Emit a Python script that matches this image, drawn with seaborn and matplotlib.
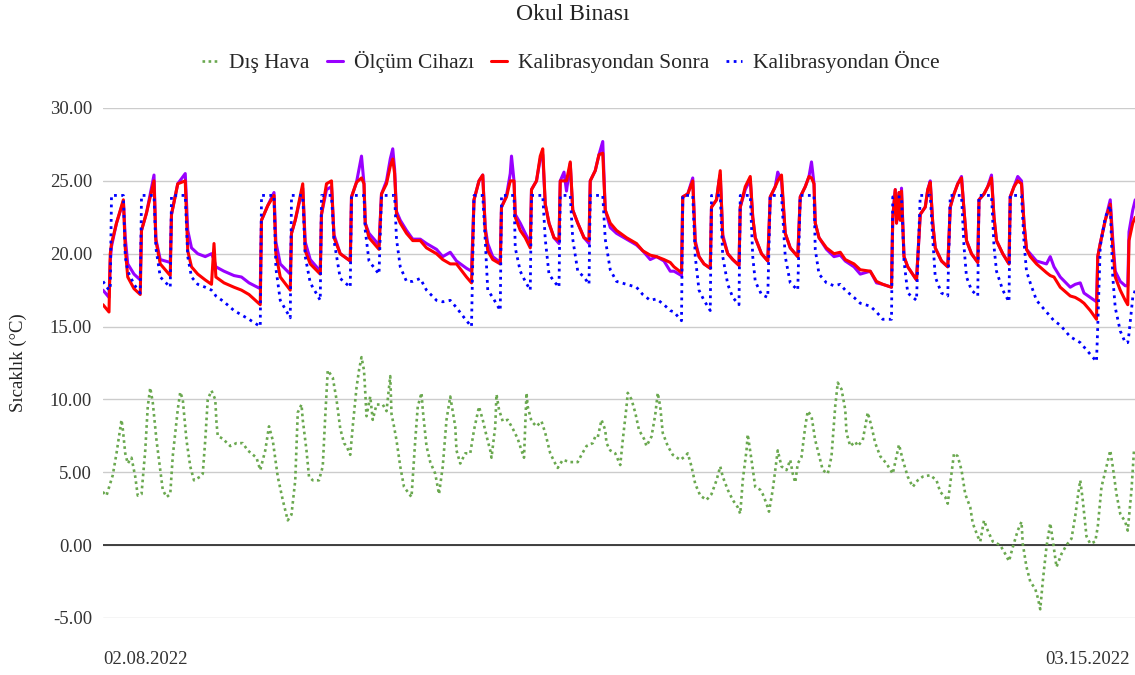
import matplotlib
matplotlib.use('Agg')
import matplotlib.pyplot as plt
import seaborn as sns

# hours since start (02.08.2022), indoor readings
saat = [
    -0.8, 4, 5, 6, 10, 15.5, 17, 19, 24, 29,
    30, 34, 40, 41.5, 45, 53,
    54, 59, 65, 67, 70, 75, 81, 86, 88, 89.5, 96, 104, 110, 116, 125,
    126, 131, 136, 137.5, 141, 149,
    150, 153, 159, 161, 165, 173,
    174, 178, 182, 184, 189, 197,
    198, 202, 206, 208, 209, 212, 220,
    222, 226, 229, 231, 232.5, 234, 237, 242, 247, 253, 258, 266, 271, 277, 282, 290, 294,
    296, 300, 303, 305, 307, 311, 317,
    318, 322, 325, 326, 328, 329, 333, 337, 341,
    342, 346, 349, 351, 353, 356, 360, 364,
    365, 368, 370, 373, 375, 379, 384, 388,
    389, 393, 396, 399, 401, 405, 410, 418, 426, 431, 437, 442, 448, 453, 456, 462,
    463, 467, 471, 473, 476, 480, 485,
    486, 490, 492, 493, 495, 499, 503, 508,
    509, 513, 517, 519, 521, 526, 531,
    533, 537, 539, 542, 545, 549, 555,
    557, 561, 564, 566, 568, 569, 572, 578, 584, 589, 593, 600, 605, 613, 618, 623, 630,
    631, 633, 634, 636, 637, 638, 640, 643, 650,
    653, 657, 659, 661, 663, 665, 670, 675,
    677, 680, 683, 686, 688, 690, 694, 699,
    700, 704, 707, 710, 712, 714, 719, 724,
    725, 728, 731, 734, 736, 738, 741, 746, 754, 757, 760, 765, 773, 777, 781, 784, 789, 794,
    795, 797, 801, 805, 807, 809, 813, 817, 819, 820, 823, 825,
]

olcum_cihazi = [
    17.5, 17.0, 19.5, 20.5, 22.1, 23.6, 21.1, 19.3, 18.6, 18.2,
    21.6, 22.8, 25.4, 21.0, 19.6, 19.4,
    22.7, 24.8, 25.5, 21.6, 20.4, 20.0, 19.8, 20.0, 19.6, 19.1, 18.8, 18.5, 18.4, 18.0, 17.6,
    22.3, 23.3, 24.2, 20.8, 19.3, 18.6,
    21.4, 22.3, 24.5, 20.8, 19.6, 18.8,
    22.7, 24.4, 24.6, 21.3, 20.0, 19.5,
    23.9, 24.9, 26.7, 24.8, 22.1, 21.4, 20.6,
    24.1, 25.0, 26.5, 27.2, 25.8, 22.9, 22.3, 21.6, 21.0, 21.0, 20.7, 20.3, 19.8, 20.1, 19.5, 19.0, 18.8,
    23.7, 25.0, 25.4, 21.8, 20.7, 19.8, 19.4,
    23.2, 24.0, 25.5, 26.7, 25.0, 22.7, 22.1, 21.4, 20.7,
    24.4, 25.0, 26.5, 26.8, 23.4, 22.1, 21.1, 20.7,
    25.0, 25.6, 24.3, 26.2, 23.0, 22.1, 21.1, 20.7,
    25.0, 25.7, 26.8, 27.7, 23.0, 21.8, 21.4, 21.0, 20.6, 20.2, 19.6, 19.8, 19.5, 18.8, 18.8, 18.5,
    23.9, 24.1, 25.2, 20.9, 19.8, 19.3, 19.0,
    23.2, 23.7, 25.0, 25.4, 21.3, 20.0, 19.6, 19.2,
    23.2, 24.4, 25.1, 22.5, 21.1, 20.0, 19.5,
    23.9, 24.6, 25.6, 25.0, 21.4, 20.4, 19.8,
    23.9, 24.6, 25.3, 26.3, 24.8, 22.1, 21.1, 20.3, 19.8, 19.9, 19.5, 19.1, 18.6, 18.8, 18.0, 17.9, 17.7,
    22.5, 24.4, 22.1, 24.2, 22.3, 24.5, 19.8, 19.1, 18.2,
    22.7, 23.2, 24.4, 25.0, 22.1, 20.4, 19.5, 19.1,
    23.2, 24.1, 24.8, 25.3, 23.0, 20.9, 20.0, 19.4,
    23.7, 24.1, 24.6, 25.4, 22.5, 20.9, 20.0, 19.3,
    23.9, 24.6, 25.3, 25.0, 22.1, 20.3, 20.0, 19.5, 19.3, 19.8, 19.1, 18.4, 17.7, 17.9, 18.0, 17.3, 17.0, 16.7,
    19.8, 20.7, 22.3, 23.7, 21.0, 18.8, 18.1, 17.8, 17.8, 21.5, 23.0, 23.7,
]

kalibrasyon_sonra = [
    16.5, 16.0, 20.0, 20.7, 22.1, 23.7, 20.4, 18.4, 17.6, 17.2,
    21.6, 22.8, 25.0, 20.9, 19.3, 18.5,
    22.7, 24.8, 25.0, 20.2, 19.1, 18.6, 18.2, 17.9, 20.7, 18.4, 18.0, 17.7, 17.5, 17.2, 16.5,
    22.3, 23.3, 24.0, 20.0, 18.4, 17.5,
    21.4, 22.3, 24.8, 20.2, 19.3, 18.6,
    22.7, 24.8, 25.0, 21.1, 20.0, 19.5,
    23.9, 24.9, 25.2, 24.8, 22.1, 21.1, 20.3,
    24.1, 24.8, 26.0, 26.5, 25.5, 22.7, 22.1, 21.4, 20.9, 20.9, 20.4, 20.0, 19.6, 19.3, 19.3, 18.4, 18.0,
    23.7, 25.0, 25.4, 21.6, 20.2, 19.6, 19.3,
    23.2, 23.9, 25.0, 25.0, 25.0, 22.5, 21.6, 21.1, 20.4,
    24.4, 25.0, 26.7, 27.2, 23.4, 22.1, 21.1, 20.9,
    25.0, 25.0, 25.0, 26.3, 23.0, 22.1, 21.1, 20.9,
    25.0, 25.7, 26.8, 26.9, 23.0, 22.1, 21.6, 21.1, 20.7, 20.2, 19.9, 19.8, 19.6, 19.4, 19.1, 18.7,
    23.9, 24.1, 25.0, 20.7, 19.8, 19.3, 19.0,
    23.2, 23.7, 25.0, 25.7, 21.1, 20.0, 19.6, 19.2,
    23.2, 24.6, 25.3, 22.5, 21.1, 20.0, 19.5,
    23.9, 24.6, 25.0, 25.4, 21.4, 20.4, 19.8,
    23.9, 24.6, 25.3, 25.2, 24.8, 22.1, 21.1, 20.4, 20.0, 20.1, 19.6, 19.3, 18.9, 18.8, 18.1, 17.9, 17.7,
    22.5, 24.4, 22.1, 24.2, 22.3, 24.3, 19.8, 19.1, 18.2,
    22.7, 23.2, 24.4, 24.9, 22.1, 20.4, 19.5, 19.1,
    23.2, 24.1, 24.8, 25.2, 23.0, 20.9, 20.0, 19.4,
    23.7, 24.1, 24.6, 25.2, 22.5, 20.9, 20.0, 19.3,
    23.9, 24.6, 25.0, 24.8, 22.1, 20.3, 19.8, 19.3, 18.7, 18.5, 18.4, 17.7, 17.1, 17.0, 16.8, 16.6, 16.1, 15.5,
    19.8, 20.7, 22.3, 23.4, 20.5, 18.4, 17.5, 16.8, 16.5, 20.9, 22.1, 22.5,
]

kalibrasyon_once = [
    18.1, 17.5, 17.6, 24.0, 24.0, 24.0, 19.8, 18.8, 17.9, 17.3,
    24.0, 24.0, 24.0, 20.4, 18.4, 17.7,
    24.0, 24.0, 24.0, 19.8, 18.4, 17.9, 17.7, 17.5, 17.3, 17.1, 16.7, 16.1, 15.8, 15.5, 15.0,
    24.0, 24.0, 24.0, 19.0, 16.8, 15.6,
    24.0, 24.0, 24.0, 19.8, 18.0, 16.8,
    24.0, 24.0, 24.0, 20.9, 18.3, 17.7,
    24.0, 24.0, 24.0, 24.0, 21.6, 19.5, 18.6,
    24.0, 24.0, 24.0, 24.0, 24.0, 21.0, 19.1, 18.1, 18.1, 18.3, 17.5, 16.8, 16.7, 16.8, 16.3, 15.4, 15.0,
    24.0, 24.0, 24.0, 20.9, 17.5, 17.0, 16.1,
    24.0, 24.0, 24.0, 24.0, 24.0, 20.4, 18.8, 18.1, 17.5,
    24.0, 24.0, 24.0, 24.0, 21.0, 18.6, 18.1, 17.7,
    24.0, 24.0, 24.0, 24.0, 21.0, 18.8, 18.4, 17.9,
    24.0, 24.0, 24.0, 24.0, 21.0, 18.9, 18.1, 17.9, 17.7, 17.2, 16.8, 16.9, 16.5, 16.1, 16.0, 15.4,
    24.0, 24.0, 24.0, 19.8, 17.5, 16.8, 16.1,
    24.0, 24.0, 24.0, 24.0, 19.8, 17.9, 17.0, 16.5,
    24.0, 24.0, 24.0, 19.8, 18.1, 17.2, 17.0,
    24.0, 24.0, 24.0, 24.0, 19.8, 18.0, 17.5,
    24.0, 24.0, 24.0, 24.0, 24.0, 20.3, 18.6, 18.0, 17.8, 17.9, 17.5, 17.0, 16.6, 16.4, 16.0, 15.5, 15.5,
    23.9, 23.9, 23.9, 23.9, 23.9, 23.9, 19.5, 17.3, 16.8,
    24.0, 24.0, 24.0, 24.0, 21.0, 18.4, 17.3, 17.1,
    24.0, 24.0, 24.0, 24.0, 20.5, 18.4, 17.5, 17.1,
    24.0, 24.0, 24.0, 24.0, 20.5, 18.8, 17.5, 16.7,
    24.0, 24.0, 24.0, 24.0, 20.8, 18.8, 18.0, 16.8, 16.0, 15.7, 15.4, 15.1, 14.3, 14.1, 13.9, 13.6, 13.1, 12.6,
    15.0, 20.5, 22.5, 23.3, 18.4, 16.3, 14.7, 13.9, 13.9, 14.5, 17.0, 17.5,
]

# outdoor readings
saat_dis = [
    -1, 2, 7, 10, 14, 15, 17, 19, 22, 25,
    27, 30, 33, 35, 37, 39, 42, 45, 47, 50,
    53, 55, 59, 61, 63, 66, 69, 72, 77, 79,
    81, 83, 86, 89, 90, 91, 95, 101, 106, 111,
    115, 122, 125, 129, 132, 135, 139, 143, 147, 150,
    153, 155, 158, 159, 162, 164, 167, 172, 175, 177,
    179, 183, 186, 189, 192, 194, 197, 199, 202, 204,
    206, 208, 209, 210, 213, 215, 218, 223, 226, 229,
    230, 232, 234, 237, 240, 243, 246, 249, 251, 254,
    255, 258, 261, 265, 268, 271, 274, 277, 281, 282,
    285, 289, 293, 296, 300, 303, 306, 309, 310, 313,
    314, 316, 319, 323, 327, 331, 334, 336, 338, 339,
    342, 346, 350, 353, 357, 361, 363, 367, 373, 379,
    382, 386, 391, 393, 395, 398, 401, 402, 405, 409,
    413, 415, 418, 419, 422, 425, 428, 432, 434, 438,
    441, 443, 445, 447, 451, 455, 461, 465, 467, 470,
    473, 477, 482, 486, 490, 493, 495, 499, 503, 507,
    509, 511, 514, 515, 518, 521, 525, 527, 530, 532,
    535, 537, 539, 542, 546, 549, 551, 553, 555, 558,
    561, 563, 566, 569, 573, 575, 579, 582, 585, 587,
    590, 593, 594, 597, 601, 603, 607, 611, 614, 617,
    621, 626, 631, 634, 636, 639, 643, 647, 651, 655,
    661, 666, 669, 673, 675, 678, 680, 683, 686, 689,
    693, 695, 699, 701, 704, 707, 711, 717, 721, 724,
    727, 731, 734, 735, 738, 741, 745, 747, 749, 751,
    754, 757, 759, 762, 766, 770, 774, 777, 779, 781,
    783, 786, 789, 793, 795, 798, 802, 805, 807, 810,
    813, 817, 819, 822, 824,
]

dis_hava = [
    3.65, 3.4, 4.8, 6.3, 8.6, 8.0, 6.3, 5.6, 6.0, 4.7,
    3.4, 3.5, 6.5, 9.5, 10.8, 9.8, 7.2, 5.15, 3.8, 3.3,
    3.5, 6.1, 9.3, 10.5, 10.0, 7.2, 5.4, 4.45, 4.7, 4.9,
    7.2, 10.0, 10.6, 10.0, 8.4, 7.5, 7.3, 6.8, 7.0, 7.0,
    6.5, 6.0, 5.15, 6.5, 8.15, 7.2, 4.7, 3.1, 1.7, 2.1,
    4.45, 9.1, 9.65, 8.6, 6.5, 4.7, 4.45, 4.45, 5.4, 8.85,
    12.0, 11.5, 10.0, 8.0, 7.0, 6.8, 6.2, 8.15, 10.8, 12.0,
    12.9, 12.0, 10.5, 8.85, 10.2, 8.6, 9.65, 9.65, 9.2, 11.6,
    9.0, 8.15, 7.2, 5.4, 4.0, 3.65, 3.3, 7.2, 9.5, 10.45,
    9.3, 6.8, 5.7, 4.9, 3.5, 5.4, 8.6, 10.2, 8.15, 6.5,
    5.6, 6.3, 6.3, 7.9, 9.5, 8.6, 7.5, 6.5, 6.0, 8.15,
    10.35, 9.3, 8.5, 8.6, 8.0, 7.3, 6.5, 6.0, 10.45, 9.5,
    8.5, 8.15, 8.5, 7.7, 6.3, 5.6, 5.3, 5.85, 5.7, 5.7,
    6.2, 6.8, 7.0, 7.45, 7.4, 8.6, 7.9, 7.0, 6.5, 6.3,
    5.5, 7.2, 9.5, 10.45, 10.0, 9.1, 7.9, 7.3, 6.8, 7.45,
    8.95, 10.45, 9.5, 7.7, 6.8, 6.2, 5.85, 6.1, 6.3, 5.4,
    4.2, 3.4, 3.1, 3.5, 4.45, 5.4, 4.7, 3.8, 3.1, 2.6,
    2.15, 4.45, 6.5, 7.6, 5.85, 4.0, 3.8, 3.5, 2.85, 2.3,
    3.8, 5.15, 6.5, 5.4, 5.15, 5.85, 4.9, 4.3, 5.6, 6.05,
    8.15, 9.2, 8.85, 7.2, 5.85, 5.15, 4.9, 6.1, 9.55, 11.15,
    10.7, 9.3, 7.7, 6.8, 7.1, 6.8, 7.2, 9.1, 8.15, 7.0,
    6.1, 5.6, 4.9, 6.1, 6.9, 5.85, 4.7, 4.0, 4.45, 4.7,
    4.8, 4.45, 3.65, 3.3, 2.85, 4.9, 6.3, 6.1, 5.15, 3.5,
    2.6, 1.5, 0.6, 0.25, 1.7, 1.0, 0.25, 0.0, -0.6, -1.1,
    -0.15, 1.0, 1.6, 0.1, -1.5, -2.5, -3.0, -3.6, -4.4, -2.5,
    -0.1, 1.5, 0.35, -1.5, -0.6, 0.0, 0.45, 2.0, 3.3, 4.45,
    3.1, 0.6, 0.1, 0.25, 1.25, 4.0, 5.4, 6.5, 5.4, 3.5,
    2.15, 1.6, 1.0, 3.8, 6.5,
]

y_ticks = [-5, 0, 5, 10, 15, 20, 25, 30]

sns.set_theme(style='white')
plt.rcParams['font.family'] = ['Liberation Serif', 'DejaVu Serif']

fig = plt.figure(figsize=(11.35, 6.75), dpi=100)
ax = fig.add_axes([103 / 1135, 1 - 618 / 675, 1 - 103 / 1135, 510 / 675])

sns.lineplot(x=saat_dis, y=dis_hava, ax=ax, color='#6aa84f', lw=1.9,
             linestyle=(0, (1, 1.3)), label='Dış Hava', sort=False)
sns.lineplot(x=saat, y=olcum_cihazi, ax=ax, color='#9900ff', lw=2.2,
             label='Ölçüm Cihazı', sort=False)
sns.lineplot(x=saat, y=kalibrasyon_sonra, ax=ax, color='#ff0000', lw=2.2,
             label='Kalibrasyondan Sonra', sort=False)
sns.lineplot(x=saat, y=kalibrasyon_once, ax=ax, color='#0000ff', lw=2.0,
             linestyle=(0, (1, 1.6)), label='Kalibrasyondan Önce', sort=False)

ax.set_xlim(-0.8, 824.8)
ax.set_ylim(-5, 30)
ax.set_yticks(y_ticks)
ax.set_yticklabels([f'{v:.2f}' for v in y_ticks], fontsize=13.5, color='#333333')
ax.set_xticks([])
ax.yaxis.grid(True, color='#cccccc', lw=1)
ax.axhline(0, color='#333333', lw=1.3, zorder=1.5)
ax.tick_params(axis='y', length=0, pad=8)
for s in ax.spines.values():
    s.set_visible(False)
ax.set_xlabel('')
ax.set_ylabel('')

handles, labels = ax.get_legend_handles_labels()
ax.get_legend().remove()
fig.legend(handles, labels, loc='center', bbox_to_anchor=(571 / 1135, 1 - 62 / 675),
           ncol=4, frameon=False, fontsize=15.5, handlelength=0.75,
           handletextpad=0.5, columnspacing=0.8)

fig.text(573 / 1135, 1 - 15 / 675, 'Okul Binası', ha='center', va='center',
         fontsize=17, color='#222222')
fig.text(18 / 1135, 1 - 363 / 675, 'Sıcaklık (°C)', rotation=90, ha='center',
         va='center', fontsize=13.5, color='#222222')
fig.text(103 / 1135, 1 - 660 / 675, '02.08.2022', ha='left', va='center',
         fontsize=13.5, color='#333333')
fig.text(1130 / 1135, 1 - 660 / 675, '03.15.2022', ha='right', va='center',
         fontsize=13.5, color='#333333')

fig.savefig('out.png', dpi=100)
